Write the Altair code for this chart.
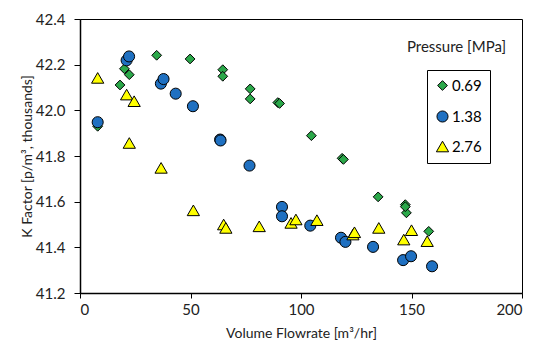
import altair as alt
import pandas as pd

# Pressure 0.69 MPa
g_x = [8.0, 18.1, 20.1, 22.3, 34.7, 49.8, 64.6, 64.6, 77.0, 77.0, 89.5, 90.3, 104.7, 118.6, 119.2, 134.9, 147.2, 147.7, 147.2, 157.8]
g_y = [41.93, 42.111, 42.182, 42.156, 42.241, 42.225, 42.178, 42.149, 42.094, 42.05, 42.034, 42.03, 41.889, 41.79, 41.785, 41.621, 41.587, 41.551, 41.578, 41.47]
# Pressure 1.38 MPa
b_x = [8.0, 21.1, 22.2, 36.6, 37.8, 43.3, 51.1, 63.4, 63.6, 76.7, 91.4, 91.4, 104.2, 118.1, 120.1, 132.6, 146.2, 149.8, 159.3]
b_y = [41.948, 42.219, 42.236, 42.117, 42.137, 42.073, 42.018, 41.872, 41.868, 41.758, 41.577, 41.536, 41.495, 41.442, 41.424, 41.402, 41.344, 41.361, 41.317]
# Pressure 2.76 MPa
t_x = [8.0, 21.1, 24.5, 22.3, 36.7, 51.3, 65.0, 66.0, 81.1, 95.5, 97.7, 107.2, 123.5, 124.2, 135.2, 146.5, 150.0, 157.1]
t_y = [42.142, 42.069, 42.04, 41.857, 41.748, 41.562, 41.5, 41.485, 41.492, 41.507, 41.522, 41.519, 41.456, 41.466, 41.485, 41.434, 41.475, 41.427]

series = ["0.69", "1.38", "2.76"]
legend_title = ["Pressure [MPa]"]

rows = []
for name, xs, ys in [(series[0], g_x, g_y), (series[1], b_x, b_y), (series[2], t_x, t_y)]:
    for x, y in zip(xs, ys):
        rows.append({"flow": x, "k": y, "p": name})
df = pd.DataFrame(rows)

FONT = "Lato"

points = alt.Chart(df).mark_point(filled=True, stroke="black", strokeWidth=1, opacity=1).encode(
    x=alt.X("flow:Q", scale=alt.Scale(domain=[0, 200], nice=False),
            axis=alt.Axis(values=[0, 50, 100, 150, 200], title="Volume Flowrate [m³/hr]",
                          grid=False, tickSize=5, labelPadding=4, titlePadding=9)),
    y=alt.Y("k:Q", scale=alt.Scale(domain=[41.2, 42.4], nice=False, zero=False),
            axis=alt.Axis(values=[41.2, 41.4, 41.6, 41.8, 42.0, 42.2, 42.4], format=".1f",
                          title="K Factor [p/m³, thousands]", grid=False, tickSize=6,
                          labelPadding=9, titlePadding=1)),
    color=alt.Color("p:N", scale=alt.Scale(domain=series, range=["#2BA84A", "#1F70C1", "#FFFF00"]),
                    legend=alt.Legend(title=None, orient="none", legendX=347, legendY=51,
                                      strokeColor="black", fillColor="white", padding=8,
                                      rowPadding=14, labelFontSize=15, labelFont=FONT,
                                      labelOffset=2, symbolStrokeColor="black",
                                      symbolStrokeWidth=1)),
    shape=alt.Shape("p:N", scale=alt.Scale(domain=series, range=["diamond", "circle", "triangle-up"])),
    size=alt.Size("p:N", scale=alt.Scale(domain=series, range=[95, 150, 160])),
)

title_txt = alt.Chart(pd.DataFrame({"t": legend_title})).mark_text(
    align="right", baseline="middle", fontSize=15, font=FONT, color="#222").encode(
    text="t:N", x=alt.value(426), y=alt.value(28))

chart = alt.layer(points, title_txt).properties(
    width=442, height=274,
    autosize=alt.AutoSizeParams(type="none"),
    padding={"left": 80, "top": 19, "right": 20, "bottom": 58},
).configure_view(stroke="black", strokeWidth=1).configure_axis(
    domainColor="black", domainWidth=1.5, tickColor="black", tickWidth=1,
    labelFont=FONT, titleFont=FONT, labelFontSize=15, titleFontSize=14,
    labelColor="#222", titleColor="#222", titleFontWeight="normal"
)

chart.save("out.html", embed_options={"renderer": "svg", "actions": False})
